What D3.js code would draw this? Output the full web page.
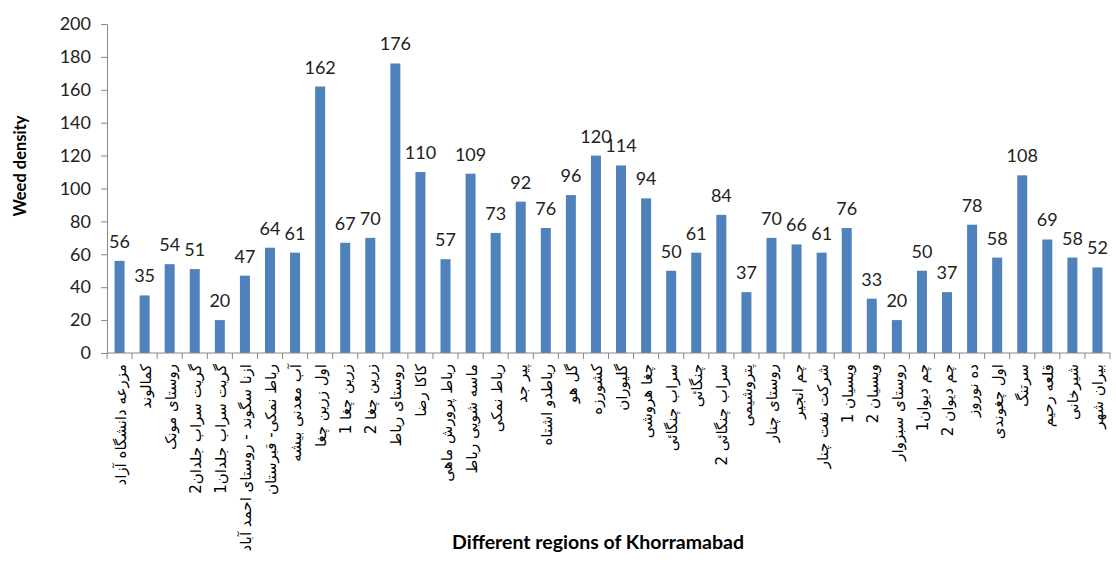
<!DOCTYPE html>
<html><head><meta charset="utf-8">
<script src="https://cdn.jsdelivr.net/npm/d3@7"></script>
<style>body{margin:0;background:#fff}svg{display:block}</style>
</head><body>
<svg id="chart" width="1116" height="574"></svg>
<script>
const categories = [
"مزرعه دانشگاه آزاد","کمالوند","روستای مونک","گریت سراب جلدان2","گریت سراب جلدان1",
"ازنا سگوند - روستای احمد آباد","رباط نمکی- قبرستان","آب معدنی بیشه","اول زرین چغا","زرین چغا 1",
"زرین چغا 2","روستای رباط","کاکا رضا","رباط پرورش ماهی","ماسه شویی رباط",
"رباط نمکی","پیر جد","رباطدو اشتاه","گل هو","کشورزه",
"گلیوران","چغا هروشی","سراب چنگائی","چنگائی","سراب چنگائی 2",
"پتروشیمی","روستای چنار","چم انجیر","شرکت نفت چنار","ویسیان 1",
"ویسیان 2","روستای سبزوار","چم دیوان1","چم دیوان 2","ده نوروز",
"اول چغوندی","سرتنگ","قلعه رحیم","شیرخانی","بیران شهر"];
const values = [56,35,54,51,20,47,64,61,162,67,70,176,110,57,109,73,92,76,96,120,114,94,50,61,84,37,70,66,61,76,33,20,50,37,78,58,108,69,58,52];
const yTicks = [0,20,40,60,80,100,120,140,160,180,200];
const yTitle = "Weed density";
const xTitle = "Different regions of Khorramabad";

const svg = d3.select("#chart");
const L = 107, R = 1110, T = 24, B = 353;
const xb = d3.scaleBand().domain(categories).range([L, R]);
const y = d3.scaleLinear().domain([0, 200]).range([B, T]);
const numFont = "Lato, 'Open Sans', sans-serif";

// y axis
const ya = svg.append("g").attr("transform", `translate(${L},0)`)
  .call(d3.axisLeft(y).tickValues(yTicks).tickSize(6).tickPadding(10));
ya.select(".domain").attr("stroke", "#888");
ya.selectAll(".tick line").attr("stroke", "#888");
ya.selectAll(".tick text").attr("font-family", numFont).attr("font-size", 18).attr("fill", "#222");

// bars
svg.append("g").selectAll("rect").data(values).join("rect")
  .attr("x", (d, i) => xb(categories[i]) + xb.bandwidth() / 2 - 5)
  .attr("width", 10)
  .attr("y", d => y(d))
  .attr("height", d => B - y(d))
  .attr("fill", "#4F81BD");

// value labels
svg.append("g").selectAll("text").data(values).join("text")
  .attr("x", (d, i) => xb(categories[i]) + xb.bandwidth() / 2)
  .attr("y", d => y(d) - 13)
  .attr("text-anchor", "middle")
  .attr("font-family", numFont).attr("font-size", 18).attr("fill", "#222")
  .text(d => d);

// x axis
const xg = svg.append("g");
xg.append("line").attr("x1", L).attr("x2", R).attr("y1", B).attr("y2", B).attr("stroke", "#888");
xg.selectAll("line.t").data(d3.range(categories.length + 1)).join("line").attr("class", "t")
  .attr("x1", i => L + i * xb.step()).attr("x2", i => L + i * xb.step())
  .attr("y1", B).attr("y2", B + 6).attr("stroke", "#888");

xg.selectAll("text.c").data(categories).join("text").attr("class", "c")
  .attr("transform", d => `translate(${xb(d) + xb.bandwidth() / 2 + 6},${364}) rotate(-90)`)
  .attr("direction", "rtl")
  .attr("text-anchor", "start")
  .attr("font-family", "'DejaVu Sans', sans-serif")
  .attr("font-size", 15).attr("fill", "#000")
  .text(d => d);

// titles
svg.append("text").attr("transform", "translate(26,166) rotate(-90)")
  .attr("text-anchor", "middle").attr("font-family", numFont).attr("font-weight", "bold")
  .attr("font-size", 16.5).attr("fill", "#000").text(yTitle);
svg.append("text").attr("x", 598).attr("y", 549)
  .attr("text-anchor", "middle").attr("font-family", numFont).attr("font-weight", "bold")
  .attr("font-size", 19.5).attr("fill", "#000").text(xTitle);
</script>
</body></html>
